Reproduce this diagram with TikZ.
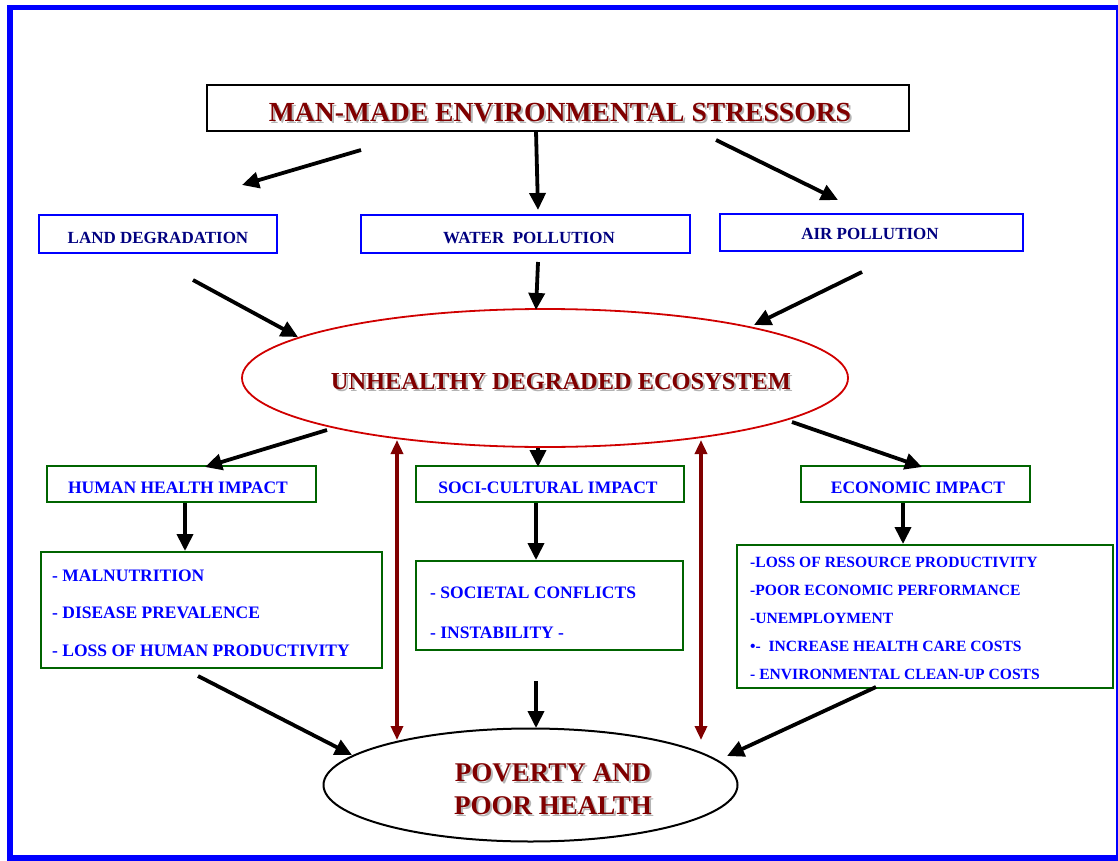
\documentclass[tikz,border=0pt]{standalone}
\usepackage{fontspec}
\setmainfont{Liberation Serif}
\usetikzlibrary{arrows.meta,shapes.geometric}
\definecolor{dred}{HTML}{800000}
\definecolor{navyb}{HTML}{000080}
\definecolor{pblue}{HTML}{0000FF}
\definecolor{dgreen}{HTML}{006400}
\definecolor{shgray}{HTML}{B4B4B4}
\definecolor{ered}{HTML}{D00000}
\newcommand\fs[1]{\fontsize{#1}{#1}\selectfont\bfseries}
\newcommand\shtxt[4]{%
  \node[#1,text=shgray,xshift=2pt,yshift=-2pt] (#2s) at (#3) {#4};
  \node[#1] (#2) at (#3) {#4};}
\begin{document}
\begin{tikzpicture}[x=1pt,y=-1pt,
  bluebox/.style={draw=pblue,line width=2pt,inner sep=0pt},
  greenbox/.style={draw=dgreen,line width=2pt,inner sep=0pt},
  blackbox/.style={draw=black,line width=2pt,inner sep=0pt},
  bigtxt/.style={inner sep=0pt,text=dred},
  hdtxt/.style={inner sep=0pt,text=navyb,font=\fs{17}},
  imtxt/.style={inner sep=0pt,text=pblue,font=\fs{17.5}},
  litxt/.style={inner sep=0pt,text=pblue,anchor=west,font=\fs{17.5}},
  ectxt/.style={inner sep=0pt,text=pblue,anchor=west,font=\fs{15.6}},
  arr/.style={line width=3.8pt,-{Triangle[length=17pt,width=16pt]}},
  rarr/.style={line width=3.4pt,draw=dred,{Triangle[length=14pt,width=12pt]}-{Triangle[length=14pt,width=12pt]}}]
\useasboundingbox (0,0) rectangle (1118,861);
\fill[white] (0,0) rectangle (1118,861);
\draw[pblue,line width=5.5pt] (9.75,7.75) rectangle (1118.75,857.75);

% title
\node[blackbox,minimum width=702pt,minimum height=46pt] (titlebox) at (558,108) {};
\shtxt{bigtxt,font=\fs{27.6}}{title}{560,112.5}{MAN-MADE ENVIRONMENTAL STRESSORS}

% stressor boxes
\node[bluebox,minimum width=238pt,minimum height=38pt] (land) at (158,234) {};
\node[hdtxt] (landt) at (158,238) {LAND DEGRADATION};
\node[bluebox,minimum width=329pt,minimum height=38pt] (water) at (525.5,234) {};
\node[hdtxt] (watert) at (529,238) {WATER\ \ POLLUTION};
\node[bluebox,minimum width=303pt,minimum height=37pt] (air) at (871,232.5) {};
\node[hdtxt] (airt) at (870,234) {AIR POLLUTION};

% ecosystem ellipse
\node[ellipse,draw=ered,line width=1.8pt,minimum width=606pt,minimum height=138pt,inner sep=0pt] (eco) at (545,378) {};
\shtxt{bigtxt,font=\fs{24.4}}{ecot}{561,381.5}{UNHEALTHY DEGRADED ECOSYSTEM}

% impact boxes
\node[greenbox,minimum width=269pt,minimum height=36pt] (hh) at (181.5,484) {};
\node[imtxt] (hht) at (178,488) {HUMAN HEALTH IMPACT};
\node[greenbox,minimum width=268pt,minimum height=36pt] (sc) at (550,484) {};
\node[imtxt] (sct) at (548,488) {SOCI-CULTURAL IMPACT};
\node[greenbox,minimum width=229pt,minimum height=36pt] (ec) at (915.5,484) {};
\node[imtxt] (ect) at (918,488) {ECONOMIC IMPACT};

% list boxes
\node[greenbox,minimum width=341pt,minimum height=116pt] (hhl) at (211.5,610) {};
\node[litxt] (hhl1) at (52,575.5) {- MALNUTRITION};
\node[litxt] (hhl2) at (52,613) {- DISEASE PREVALENCE};
\node[litxt] (hhl3) at (52,651) {- LOSS OF HUMAN PRODUCTIVITY};
\node[greenbox,minimum width=267pt,minimum height=89pt] (scl) at (549.5,605.5) {};
\node[litxt] (scl1) at (430,592.5) {- SOCIETAL CONFLICTS};
\node[litxt] (scl2) at (430,633) {- INSTABILITY -};
\node[greenbox,minimum width=376pt,minimum height=143pt] (ecl) at (925,616.5) {};
\node[ectxt] (ecl1) at (750,562.5) {-LOSS OF RESOURCE PRODUCTIVITY};
\node[ectxt] (ecl2) at (750,590) {-POOR ECONOMIC PERFORMANCE};
\node[ectxt] (ecl3) at (750,618.5) {-UNEMPLOYMENT};
\node[ectxt] (ecl4) at (750,646.5) {•-\ \ INCREASE HEALTH CARE COSTS};
\node[ectxt] (ecl5) at (750,674.5) {- ENVIRONMENTAL CLEAN-UP COSTS};

% poverty ellipse
\node[ellipse,draw=black,line width=2pt,minimum width=414pt,minimum height=113pt,inner sep=0pt] (pov) at (530.5,785) {};
\shtxt{bigtxt,align=center,font=\fontsize{27}{33.5}\selectfont\bfseries}{povt}{553,789.3}{POVERTY AND\\POOR HEALTH}

% arrow end points
\coordinate (a1s) at (361,150); \coordinate (a1e) at (242,185);
\coordinate (a2s) at (536,131); \coordinate (a2e) at (538,210);
\coordinate (a3s) at (716,140); \coordinate (a3e) at (838,200);
\coordinate (b1s) at (193,280); \coordinate (b1e) at (298,337);
\coordinate (b2s) at (538,262); \coordinate (b2e) at (536,310);
\coordinate (b3s) at (862,272); \coordinate (b3e) at (754,325);
\coordinate (c1s) at (327,430); \coordinate (c1e) at (205,467);
\coordinate (c2s) at (538,448); \coordinate (c2e) at (538,467);
\coordinate (c3s) at (792,422); \coordinate (c3e) at (922,467);
\coordinate (d1s) at (185,503); \coordinate (d1e) at (185,551);
\coordinate (d2s) at (536,503); \coordinate (d2e) at (536,560);
\coordinate (d3s) at (903,503); \coordinate (d3e) at (903,544);
\coordinate (e1s) at (198,676); \coordinate (e1e) at (352,755);
\coordinate (e2s) at (536,681); \coordinate (e2e) at (536,728);
\coordinate (e3s) at (876,687); \coordinate (e3e) at (727,756);
\coordinate (r1s) at (397,440); \coordinate (r1e) at (397,740);
\coordinate (r2s) at (701,440); \coordinate (r2e) at (701,740);

\foreach \p in {a1,a2,a3,b1,b2,b3,c1,c2,c3,d1,d2,d3,e1,e2,e3}
  \draw[arr] (\p s) -- (\p e);
\draw[rarr] (r1s) -- (r1e);
\draw[rarr] (r2s) -- (r2e);
\end{tikzpicture}
\end{document}
